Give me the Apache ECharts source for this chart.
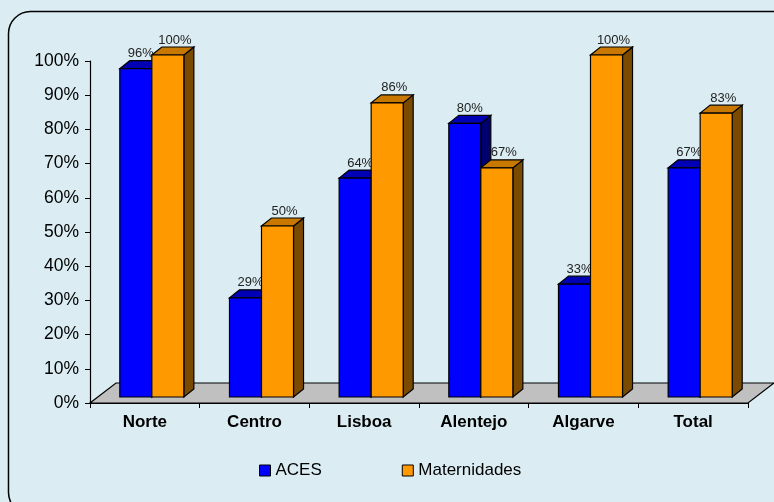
<!DOCTYPE html>
<html>
<head>
<meta charset="utf-8">
<script src="https://cdn.jsdelivr.net/npm/echarts@6/dist/echarts.min.js"></script>
<style>
  html, body { margin: 0; padding: 0; background: #DBEDF3; }
  #chart { width: 774px; height: 502px; }
</style>
</head>
<body>
<div id="chart"></div>
<script>
// Share of units per region
const categories = ['Norte', 'Centro', 'Lisboa', 'Alentejo', 'Algarve', 'Total'];
const aces = [0.96, 0.29, 0.64, 0.80, 0.33, 0.67];
const maternidades = [1.00, 0.50, 0.86, 0.67, 1.00, 0.83];
const seriesNames = ['ACES', 'Maternidades'];

// pseudo-3D geometry
const PLANE_DX = 7, PLANE_DY = 6;      // bars stand half-way into the floor
const DEPTH_DX = 10, DEPTH_DY = 8;     // bar depth
const FLOOR_DX = 26, FLOOR_DY = 20;    // floor depth
const BAR_FRAC = 0.292;                // bar width relative to category band

const FONT = 'Arial, "Liberation Sans", sans-serif';

function barRenderer(side, front, topC, sideC, labelDx) {
  return function (params, api) {
    const i = api.value(0), v = api.value(1);
    const base = api.coord([i, 0]);
    const top = api.coord([i, v]);
    const bw = api.size([1, 0])[0] * BAR_FRAC;
    const cx = base[0] + PLANE_DX;
    const x0 = side < 0 ? cx - bw : cx;
    const x1 = x0 + bw;
    const yb = base[1] - PLANE_DY;
    const yt = top[1] - PLANE_DY;
    const stroke = { stroke: '#000', lineWidth: 1.2, lineJoin: 'miter' };
    return {
      type: 'group',
      children: [
        { type: 'polygon', shape: { points: [[x1, yt], [x1 + DEPTH_DX, yt - DEPTH_DY], [x1 + DEPTH_DX, yb - DEPTH_DY], [x1, yb]] },
          style: Object.assign({ fill: sideC }, stroke) },
        { type: 'polygon', shape: { points: [[x0, yt], [x1, yt], [x1 + DEPTH_DX, yt - DEPTH_DY], [x0 + DEPTH_DX, yt - DEPTH_DY]] },
          style: Object.assign({ fill: topC }, stroke) },
        { type: 'rect', shape: { x: x0, y: yt, width: bw, height: yb - yt },
          style: Object.assign({ fill: front }, stroke) },
        { type: 'text', x: (x0 + x1) / 2 + labelDx, y: yt - 15,
          style: { text: Math.round(v * 100) + '%', fill: '#222', font: '13px ' + FONT, align: 'center', verticalAlign: 'middle' } }
      ]
    };
  };
}

function floorRenderer(params, api) {
  const cs = params.coordSys;
  const x0 = cs.x, x1 = cs.x + cs.width, y0 = cs.y + cs.height;
  return {
    type: 'polygon',
    shape: { points: [[x0, y0], [x1, y0], [x1 + FLOOR_DX, y0 - FLOOR_DY], [x0 + FLOOR_DX, y0 - FLOOR_DY]] },
    style: { fill: '#C0C0C0', stroke: '#000', lineWidth: 1.2 }
  };
}

const chart = echarts.init(document.getElementById('chart'), null, { renderer: 'canvas' });
chart.setOption({
  backgroundColor: '#DBEDF3',
  animation: false,
  graphic: [{
    type: 'rect', z: 100, silent: true,
    shape: { x: 8.5, y: 11.5, width: 820, height: 503, r: 22 },
    style: { fill: 'none', stroke: '#000', lineWidth: 1.5 }
  }],
  grid: { left: 90, right: 26, top: 61, bottom: 99 },
  legend: {
    left: 259, top: 462, padding: 0,
    itemWidth: 11, itemHeight: 11, itemGap: 80,
    icon: 'rect',
    textStyle: { fontFamily: FONT, fontSize: 17, color: '#000' },
    data: [
      { name: seriesNames[0], itemStyle: { color: '#0000FF', borderColor: '#000', borderWidth: 1 } },
      { name: seriesNames[1], itemStyle: { color: '#FF9900', borderColor: '#000', borderWidth: 1 } }
    ]
  },
  xAxis: {
    type: 'category',
    data: categories,
    axisLine: { lineStyle: { color: '#000', width: 1.2 } },
    axisTick: { show: true, length: 5, alignWithLabel: false, lineStyle: { color: '#000' } },
    axisLabel: { margin: 11, color: '#000', fontFamily: FONT, fontSize: 17, fontWeight: 'bold' }
  },
  yAxis: {
    type: 'value', min: 0, max: 1, interval: 0.1,
    axisLine: { show: true, lineStyle: { color: '#000', width: 1.2 } },
    axisTick: { show: true, length: 5, lineStyle: { color: '#000' } },
    splitLine: { show: false },
    axisLabel: { margin: 11, color: '#000', fontFamily: FONT, fontSize: 17.5,
      formatter: v => Math.round(v * 100) + '%' }
  },
  series: [
    { type: 'custom', name: 'floor', renderItem: floorRenderer, data: [[0, 0]], silent: true, z: 1 },
    { type: 'custom', name: seriesNames[0], itemStyle: { color: '#0000FF' },
      renderItem: barRenderer(-1, '#0000FF', '#0000B4', '#00006E', 5),
      encode: { x: 0, y: 1 }, data: aces.map((v, i) => [i, v]), z: 2 },
    { type: 'custom', name: seriesNames[1], itemStyle: { color: '#FF9900' },
      renderItem: barRenderer(1, '#FF9900', '#C87800', '#7A4A00', 7),
      encode: { x: 0, y: 1 }, data: maternidades.map((v, i) => [i, v]), z: 3 }
  ]
});
</script>
</body>
</html>
